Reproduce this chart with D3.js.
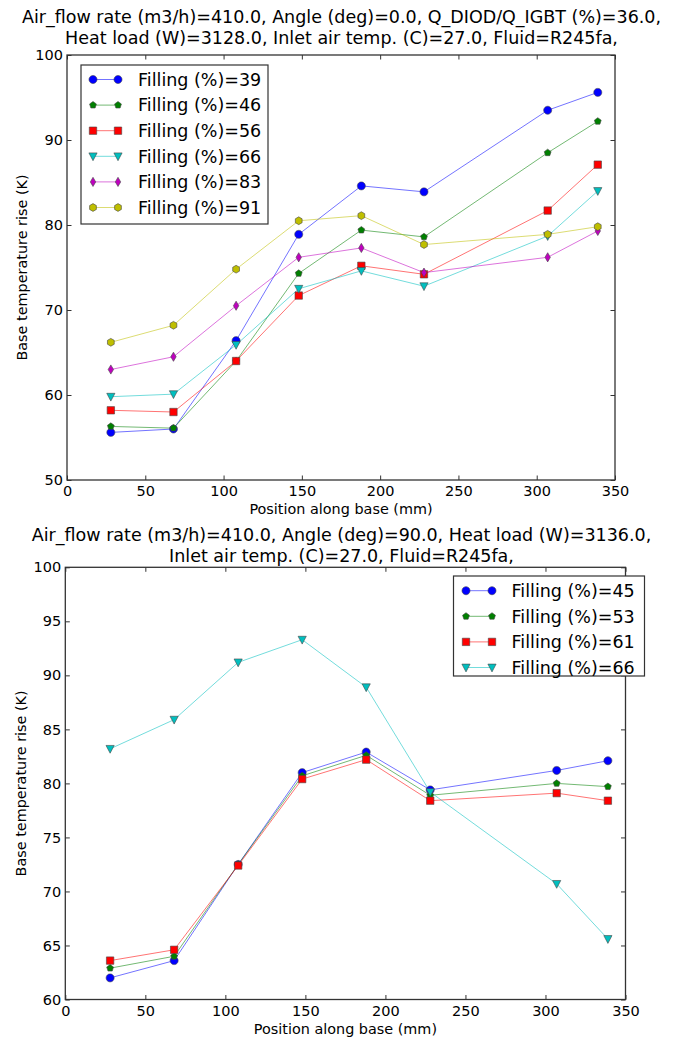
<!DOCTYPE html>
<html>
<head>
<meta charset="utf-8">
<script src="https://cdn.jsdelivr.net/npm/d3@7"></script>
<style>
  html, body { margin: 0; padding: 0; background: #fff; }
  svg { display: block; }
  text { font-family: "DejaVu Sans", sans-serif; fill: #000; }
</style>
</head>
<body>
<div id="chart"></div>
<script>
// ---------- DATA ----------
const positions = [28, 68, 108, 148, 188, 228, 307, 339];

const title1Lines = [
  "Air_flow rate (m3/h)=410.0, Angle (deg)=0.0, Q_DIOD/Q_IGBT (%)=36.0,",
  "Heat load (W)=3128.0, Inlet air temp. (C)=27.0, Fluid=R245fa,"
];
const title2Lines = [
  "Air_flow rate (m3/h)=410.0, Angle (deg)=90.0, Heat load (W)=3136.0,",
  "Inlet air temp. (C)=27.0, Fluid=R245fa,"
];

const fillings1 = ["Filling (%)=39", "Filling (%)=46", "Filling (%)=56", "Filling (%)=66", "Filling (%)=83", "Filling (%)=91"];
const fill39 = [55.6, 56.0, 66.4, 78.9, 84.6, 83.9, 93.5, 95.6];
const fill46 = [56.3, 56.1, 64.0, 74.3, 79.4, 78.6, 88.5, 92.2];
const fill56 = [58.2, 58.0, 64.0, 71.7, 75.2, 74.2, 81.7, 87.1];
const fill66 = [59.8, 60.1, 65.9, 72.5, 74.6, 72.8, 78.7, 84.0];
const fill83 = [63.0, 64.5, 70.5, 76.2, 77.3, 74.4, 76.2, 79.3];
const fill91 = [66.2, 68.2, 74.8, 80.5, 81.1, 77.7, 78.9, 79.8];

const fillings2 = ["Filling (%)=45", "Filling (%)=53", "Filling (%)=61", "Filling (%)=66"];
const fill45b = [62.0, 63.6, 72.5, 81.0, 82.9, 79.4, 81.2, 82.1];
const fill53b = [62.9, 64.0, 72.5, 80.7, 82.6, 78.9, 80.0, 79.7];
const fill61b = [63.6, 64.6, 72.4, 80.4, 82.2, 78.4, 79.1, 78.4];
const fill66b = [83.2, 85.9, 91.2, 93.3, 88.9, 79.2, 70.7, 65.6];

const xTicks = [0, 50, 100, 150, 200, 250, 300, 350];
const yTicks1 = [50, 60, 70, 80, 90, 100];
const yTicks2 = [60, 65, 70, 75, 80, 85, 90, 95, 100];

// ---------- STYLES ----------
const styles = [
  {color: "#0000ff", marker: "circle"},
  {color: "#008000", marker: "pentagon"},
  {color: "#ff0000", marker: "square"},
  {color: "#00bfbf", marker: "triangleDown"},
  {color: "#bf00bf", marker: "thinDiamond"},
  {color: "#bfbf00", marker: "hexagon"}
];

function polygon(n, r, rot) {
  const pts = [];
  for (let i = 0; i < n; i++) {
    const a = rot + i * 2 * Math.PI / n;
    pts.push([r * Math.sin(a), -r * Math.cos(a)]);
  }
  return "M" + pts.map(p => p[0].toFixed(2) + "," + p[1].toFixed(2)).join("L") + "Z";
}
function markerPath(type) {
  switch (type) {
    case "circle": return polygon(40, 4.0, 0);
    case "pentagon": return polygon(5, 3.6, 0);
    case "square": return "M-3.7,-3.7L3.7,-3.7L3.7,3.7L-3.7,3.7Z";
    case "triangleDown": return "M-4.1,-3.4L4.1,-3.4L0,4.4Z";
    case "thinDiamond": return "M0,-4.6L2.7,0L0,4.6L-2.7,0Z";
    case "hexagon": return polygon(6, 3.9, 0);
  }
}

const W = 683, H = 1038;
const svg = d3.select("#chart").append("svg").attr("width", W).attr("height", H);

function drawPanel(cfg) {
  const g = svg.append("g");
  const x = d3.scaleLinear().domain([0, 350]).range([cfg.left, cfg.right]);
  const y = d3.scaleLinear().domain(cfg.yDomain).range([cfg.bottom, cfg.top]);

  // title
  cfg.titleLines.forEach((t, i) => {
    g.append("text").attr("x", W / 2).attr("y", cfg.titleY + i * 21)
      .attr("text-anchor", "middle").style("font-size", "17.5px").text(t);
  });

  // axes with inward ticks
  const tickLen = 4.5;
  const axB = d3.axisBottom(x).tickValues(xTicks).tickSize(-tickLen).tickPadding(6).tickFormat(d3.format("d"));
  const axT = d3.axisTop(x).tickValues(xTicks).tickSize(-tickLen).tickFormat("");
  const axL = d3.axisLeft(y).tickValues(cfg.yTicks).tickSize(-tickLen).tickPadding(4).tickFormat(d3.format("d"));
  const axR = d3.axisRight(y).tickValues(cfg.yTicks).tickSize(-tickLen).tickFormat("");

  function styleAxis(sel) {
    sel.select(".domain").remove();
    sel.selectAll(".tick line").attr("stroke", "#333").attr("stroke-width", 1);
    sel.selectAll(".tick text").style("font-size", "14.5px").style("font-family", "DejaVu Sans, sans-serif").attr("fill", "#000");
  }
  g.append("g").attr("transform", `translate(0,${cfg.bottom})`).call(axB).call(styleAxis);
  g.append("g").attr("transform", `translate(0,${cfg.top})`).call(axT).call(styleAxis);
  g.append("g").attr("transform", `translate(${cfg.left},0)`).call(axL).call(styleAxis);
  g.append("g").attr("transform", `translate(${cfg.right},0)`).call(axR).call(styleAxis);

  // lines and markers
  const line = d3.line().x((d, i) => x(positions[i])).y(d => y(d));
  cfg.series.forEach((vals, si) => {
    const st = styles[si];
    g.append("path").datum(vals).attr("d", line).attr("fill", "none")
      .attr("stroke", st.color).attr("stroke-width", 1).attr("stroke-opacity", 0.55);
  });
  cfg.series.forEach((vals, si) => {
    const st = styles[si];
    g.selectAll(null).data(vals).enter().append("path")
      .attr("d", markerPath(st.marker))
      .attr("transform", (d, i) => `translate(${x(positions[i])},${y(d)})`)
      .attr("fill", st.color).attr("stroke", "#444").attr("stroke-width", 0.6);
  });

  // frame
  g.append("rect").attr("x", cfg.left).attr("y", cfg.top)
    .attr("width", cfg.right - cfg.left).attr("height", cfg.bottom - cfg.top)
    .attr("fill", "none").attr("stroke", "#333").attr("stroke-width", 1.3);

  // axis labels
  g.append("text").attr("x", (cfg.left + cfg.right) / 2).attr("y", cfg.bottom + 34)
    .attr("text-anchor", "middle").style("font-size", "14.4px").text("Position along base (mm)");
  g.append("text").attr("transform", `translate(${cfg.yLabelX},${(cfg.top + cfg.bottom) / 2}) rotate(-90)`)
    .attr("text-anchor", "middle").style("font-size", "14.4px").text("Base temperature rise (K)");

  // legend
  const L = cfg.legend;
  const lg = g.append("g");
  lg.append("rect").attr("x", L.x0).attr("y", L.y0).attr("width", L.x1 - L.x0).attr("height", L.y1 - L.y0)
    .attr("fill", "#fff").attr("stroke", "#333").attr("stroke-width", 1.2);
  cfg.labels.forEach((lab, i) => {
    const st = styles[i];
    const yy = L.firstY + i * L.step;
    lg.append("line").attr("x1", L.mx0).attr("x2", L.mx1).attr("y1", yy).attr("y2", yy)
      .attr("stroke", st.color).attr("stroke-width", 1).attr("stroke-opacity", 0.55);
    [L.mx0, L.mx1].forEach(mx => {
      lg.append("path").attr("d", markerPath(st.marker)).attr("transform", `translate(${mx},${yy})`)
        .attr("fill", st.color).attr("stroke", "#444").attr("stroke-width", 0.6);
    });
    lg.append("text").attr("x", L.tx).attr("y", yy).attr("dy", "0.36em")
      .style("font-size", "17.5px").text(lab);
  });
}

drawPanel({
  left: 67, right: 615, top: 55, bottom: 480,
  yDomain: [50, 100], yTicks: yTicks1, titleLines: title1Lines, titleY: 23, yLabelX: 27,
  series: [fill39, fill46, fill56, fill66, fill83, fill91], labels: fillings1,
  legend: {x0: 81, x1: 268, y0: 65, y1: 224, firstY: 79.5, step: 25.6, mx0: 93, mx1: 118, tx: 138}
});

drawPanel({
  left: 65.3, right: 625.5, top: 567.3, bottom: 999.5,
  yDomain: [60, 100], yTicks: yTicks2, titleLines: title2Lines, titleY: 541, yLabelX: 26,
  series: [fill45b, fill53b, fill61b, fill66b], labels: fillings2,
  legend: {x0: 453.5, x1: 644.5, y0: 576, y1: 676, firstY: 590.7, step: 25.6, mx0: 466, mx1: 492, tx: 511.5}
});
</script>
</body>
</html>
